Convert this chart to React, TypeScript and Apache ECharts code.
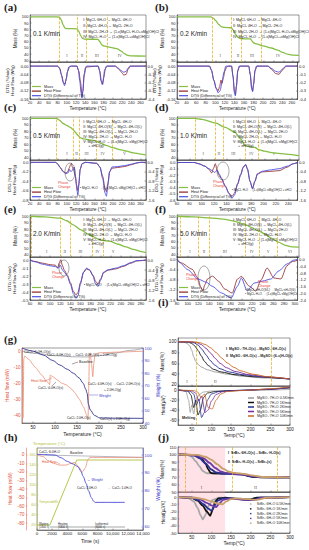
import React, { useEffect, useRef } from 'react';
import * as echarts from 'echarts';

// ===== (a) 0.1 K/min =====
const aMass = [[20,100],[80,100],[84,99.5],[88,95],[92,87],[96,82],[100,81.2],[122,80.8],[126,77],[130,70],[134,65.5],[138,64.3],[168,63.8],[172,60],[176,55],[180,53.5],[195,51],[210,48.5],[218,45],[225,41],[232,38],[240,37.2],[272,37]];
const aDtg = [[20,0],[80,0],[84,-0.01],[88,-0.04],[92,-0.08],[95,-0.095],[98,-0.07],[101,-0.03],[104,-0.005],[107,0],[122,0],[125,-0.02],[128,-0.07],[131,-0.13],[133,-0.155],[135,-0.12],[137,-0.05],[140,-0.01],[143,0],[168,0],[171,-0.02],[174,-0.07],[177,-0.09],[179,-0.07],[182,-0.02],[186,0],[205,0],[212,-0.01],[218,-0.022],[224,-0.03],[229,-0.025],[233,-0.01],[237,0],[272,0]];
const aHeat = [[20,0],[80,0],[85,-0.03],[89,-0.12],[93,-0.2],[96,-0.22],[99,-0.15],[102,-0.06],[106,-0.01],[110,0],[122,0],[126,-0.06],[130,-0.2],[133,-0.36],[135,-0.3],[138,-0.1],[142,-0.01],[168,0],[172,-0.07],[175,-0.18],[178,-0.22],[180,-0.14],[184,-0.03],[188,0],[205,0],[212,-0.03],[218,-0.07],[224,-0.11],[229,-0.1],[233,-0.04],[238,0],[272,0]];
const aDashed = [83,123,142,188];
const aRomanT = [100,133,165,215];

// ===== (b) 0.2 K/min =====
const bMass = [[20,100],[90,100],[95,98],[100,94],[106,88],[112,84],[118,83],[132,82.5],[136,79],[141,72],[146,67],[151,65],[172,64.5],[175,61],[179,58],[184,56.5],[200,53],[215,50],[228,46.5],[238,43],[248,40],[258,38.5],[272,38]];
const bDtg = [[20,0],[88,0],[92,-0.02],[97,-0.07],[102,-0.11],[106,-0.13],[110,-0.12],[114,-0.08],[118,-0.03],[122,0],[134,0],[137,-0.05],[140,-0.13],[142,-0.145],[144,-0.1],[147,-0.02],[150,0],[170,0],[173,-0.04],[176,-0.11],[178,-0.125],[180,-0.09],[183,-0.02],[186,0],[210,0],[218,-0.012],[226,-0.025],[233,-0.03],[240,-0.015],[247,0],[272,0]];
const bHeat = [[20,0],[88,0],[92,-0.05],[97,-0.17],[102,-0.27],[106,-0.3],[109,-0.25],[112,-0.17],[114,-0.21],[117,-0.14],[120,-0.06],[124,-0.01],[128,0],[134,0],[137,-0.12],[140,-0.3],[142,-0.35],[144,-0.25],[147,-0.06],[151,0],[170,0],[173,-0.1],[176,-0.26],[178,-0.3],[180,-0.22],[183,-0.06],[187,0],[210,0],[218,-0.04],[226,-0.09],[233,-0.1],[240,-0.05],[248,0],[272,0]];
const bDashed = [92,133,152,195];
const bRomanT = [109,146,175,229];

// ===== (c) 0.5 K/min =====
const cMass = [[20,100],[78,100],[84,97],[92,92],[100,89],[108,86],[113,83],[118,79],[124,74],[130,70],[136,68.5],[150,67],[164,65],[172,62],[185,58.5],[200,55],[215,52],[230,49.5],[245,47],[260,45],[272,44]];
const cDtg = [[20,0],[76,0],[80,-0.04],[86,-0.12],[92,-0.2],[98,-0.24],[103,-0.22],[106,-0.15],[109,-0.2],[112,-0.17],[116,-0.1],[119,-0.3],[122,-0.6],[124,-0.7],[126,-0.5],[129,-0.15],[133,-0.03],[140,0],[165,-0.02],[172,-0.1],[178,-0.35],[183,-0.65],[186,-0.72],[189,-0.5],[193,-0.2],[198,-0.1],[210,-0.09],[225,-0.07],[240,-0.04],[252,-0.01],[260,0],[272,0]];
const cHeat = [[20,0],[76,0],[80,-0.06],[86,-0.22],[92,-0.38],[98,-0.45],[102,-0.4],[105,-0.25],[108,-0.1],[110,-0.05],[112,-0.2],[115,-0.35],[118,-0.55],[121,-0.95],[124,-1.2],[126,-0.9],[129,-0.3],[133,-0.06],[140,0],[165,-0.04],[172,-0.2],[178,-0.6],[183,-1.1],[186,-1.25],[189,-0.9],[193,-0.4],[198,-0.25],[210,-0.22],[225,-0.18],[240,-0.1],[252,-0.03],[260,0],[272,0]];
const cDashed = [78,115,128,164,199];
const cRomanT = [100,121,143,178,225];

// ===== (d) 1.0 K/min =====
const dMass = [[60,100],[88,100],[100,98.5],[121,93],[137,86],[153,78.5],[161,69],[169,58.5],[178,56],[185,55.2],[190,52],[200,49.5],[211,47.2],[225,45.8],[237,44.7],[255,42.5]];
const dDtg = [[60,0],[88,0],[95,-0.02],[105,-0.06],[112,-0.1],[117,-0.13],[121,-0.16],[125,-0.12],[128,-0.18],[132,-0.25],[138,-0.38],[144,-0.5],[149,-0.57],[153,-0.52],[158,-0.35],[163,-0.2],[167,-0.08],[171,-0.03],[174,-0.1],[178,-0.3],[182,-0.42],[186,-0.3],[190,-0.18],[198,-0.14],[210,-0.12],[225,-0.1],[238,-0.06],[248,-0.02],[255,0]];
const dHeat = [[60,0],[88,0],[95,-0.05],[105,-0.15],[112,-0.3],[116,-0.45],[119,-0.25],[122,-0.05],[125,-0.35],[128,-0.55],[132,-0.7],[138,-1.0],[144,-1.3],[149,-1.45],[153,-1.3],[158,-0.9],[163,-0.5],[167,-0.2],[171,-0.1],[174,-0.3],[178,-0.8],[182,-1.1],[186,-0.8],[190,-0.5],[198,-0.4],[210,-0.38],[225,-0.35],[238,-0.2],[248,-0.05],[255,0]];
const dDashed = [89,121,134,169,190];
const dRomanT = [102,127,150,179,215];

// ===== (e) 2.0 K/min =====
const eMass = [[60,100],[90,99],[120,97],[133,93],[145,87],[160,79],[175,72],[185,68],[199,63],[210,61.5],[219,60.5],[235,56],[250,52],[265,48],[280,44.5],[290,43]];
const eDtg = [[60,0],[70,-0.02],[85,-0.05],[100,-0.07],[110,-0.08],[116,-0.1],[120,-0.06],[124,-0.12],[128,-0.15],[134,-0.2],[140,-0.3],[146,-0.42],[151,-0.48],[155,-0.45],[160,-0.3],[166,-0.15],[172,-0.1],[178,-0.12],[185,-0.2],[190,-0.3],[195,-0.33],[200,-0.25],[206,-0.15],[215,-0.12],[230,-0.1],[245,-0.07],[260,-0.03],[272,-0.005],[290,0]];
const eHeat = [[60,0],[70,-0.05],[85,-0.12],[100,-0.18],[110,-0.2],[115,-0.3],[118,-0.1],[121,0.02],[124,-0.2],[128,-0.4],[134,-0.6],[140,-0.9],[146,-1.25],[151,-1.4],[155,-1.3],[160,-0.9],[166,-0.5],[172,-0.35],[178,-0.4],[185,-0.6],[190,-0.85],[195,-0.95],[200,-0.75],[206,-0.5],[215,-0.4],[230,-0.35],[245,-0.25],[260,-0.12],[272,-0.03],[290,0]];
const eDashed = [63,120,139,183,206];
const eRomanT = [93,129,160,194,225];

// ===== (f) 5.0 K/min =====
const fMass = [[80,100],[110,99],[140,97.5],[165,95.5],[187,92],[205,87],[218,82],[230,77],[242,72],[255,65],[267,59],[280,54],[292,51.5],[305,51]];
const fDtg = [[80,0],[85,-0.12],[100,-0.4],[119,-0.77],[135,-0.9],[145,-1.05],[163,-1.32],[181,-1.52],[193,-1.05],[200,-0.73],[211,-1.24],[224,-0.93],[240,-0.85],[255,-0.77],[270,-0.45],[285,-0.18],[298,-0.02],[305,0]];
const fHeat = [[80,0],[88,-0.2],[108,-0.57],[119,-1.1],[124,-1.6],[128,-1.87],[132,-1.5],[137,-1.15],[146,-0.98],[158,-1.3],[169,-1.75],[183,-1.99],[193,-1.15],[200,-1.0],[215,-1.58],[227,-1.87],[237,-1.2],[248,-0.5],[261,-1.1],[274,-1.15],[285,-0.38],[295,-0.12],[305,-0.05]];
const fDashed = [86,119,140,205,232,265];
const fRomanT = [104,130,168,218,248,288];

const roman4 = ['I','II','III','IV'];
const roman5 = ['I','II','III','IV','V'];
const roman6 = ['I','II','III','IV','V','VI'];
const massTicksAB = [30,40,50,60,70,80,90,100];
const massTicksCF = [40,50,60,70,80,90,100];

const reactions4 = ['I: MgCl₂·6H₂O → MgCl₂·4H₂O','II: MgCl₂·4H₂O → MgCl₂·2H₂O','III: MgCl₂·2H₂O → (1-x)MgCl₂·H₂O+xMg(OH)Cl','IV: MgCl₂·H₂O → (1-x)MgCl₂+xMg(OH)Cl'];
const reactions5 = ['I: MgCl₂·6H₂O → MgCl₂·4H₂O','II: MgCl₂·4H₂O(S) → MgCl₂·4H₂O(L)','III: MgCl₂·4H₂O(L) → MgCl₂·2H₂O','IV: MgCl₂·2H₂O → MgCl₂·H₂O','V: MgCl₂·H₂O → (1-x)MgCl₂·xMg(OH)Cl','     + xHCl(g)'];
const tgLegend = ['Mass','Heat Flow','DTG (Differencial of TG)'];

// ===== (g) CaCl2·6H2O, temperature =====
const gWeight = [[25,100],[50,97.5],[73,94.4],[95,90],[111,86.4],[128,83],[142,79.8],[155,76],[164,71.8],[170,67],[173,63.8],[176,55],[180,50.5],[190,46],[202,44],[250,43.8],[300,43.7]];
const gHeat = [[25,0],[26,-10],[27,-42],[28,-30],[29,-5],[31,-3],[40,-5],[55,-10],[70,-15],[80,-18.5],[85,-20],[88,-21],[89,-15],[95,-16],[105,-18],[115,-20],[125,-21],[135,-23],[145,-26],[155,-30],[165,-35],[172,-40],[175,-43],[177,-20],[178,-2],[180,-1],[183,-8],[186,-16],[188,-8],[191,-2],[200,-1],[250,-0.5],[300,0]];
const gBaseline = [[25,0],[60,-1.5],[100,-2.8],[140,-3.5],[175,-3.6],[200,-2.8],[240,-1],[270,0.5],[300,1.8]];
const gTempTicks = [50,100,150,200,250,300];

// ===== (h) CaCl2·6H2O, time =====
const hTemp = [[0,20],[1700,20],[5250,150],[14000,150]];
const hHeat = [[0,0],[800,-2],[1500,-7],[2200,-10],[3000,-12],[3800,-12],[4500,-10],[5000,-9],[5500,-14],[6000,-20],[6400,-15],[6700,-6],[7000,-3],[8000,-3],[14000,-3]];
const hWeight = [[0,100.5],[1000,100.3],[2400,100],[3200,98.5],[4000,96.5],[4800,95],[5400,93.5],[5800,91],[6100,88],[6500,84],[6800,80],[7200,76],[7500,74],[7700,73.5],[9000,73.5],[11600,73.5]];
const hBaseline = [[0,0],[14000,-3]];

// ===== (i) MgSO4·7H2O =====
const iNames = ['MgSO₄·7H₂O 0.5K/min','MgSO₄·7H₂O 1K/min','MgSO₄·7H₂O 2K/min','MgSO₄·7H₂O 5K/min','MgSO₄·7H₂O 10K/min'];
const iMass05 = [[15,100],[30,99.5],[38,97],[45,92],[50,84],[55,72],[60,64],[66,58],[75,53],[90,48],[110,44],[140,40],[180,36],[230,33],[300,31]];
const iMass1 = [[15,100],[40,99.5],[50,97],[58,92],[66,84],[74,74],[82,64],[92,56],[105,49],[125,44],[160,39],[210,35],[300,31]];
const iMass2 = [[15,100],[45,99.5],[56,98],[66,94],[76,86],[86,76],[96,66],[108,57],[122,50],[145,44],[180,39],[230,35],[300,31]];
const iMass5 = [[15,100],[50,99.7],[62,98.5],[74,95],[86,88],[98,79],[110,69],[122,60],[138,52],[160,45],[195,39],[240,35],[300,31]];
const iMass10 = [[15,100],[55,99.8],[70,98.5],[84,95],[98,89],[112,80],[126,70],[140,61],[156,53],[175,46],[205,40],[245,35],[300,31]];
const iHeat05 = [[15,0],[35,-3],[42,-20],[46,-45],[50,-30],[55,-48],[60,-25],[68,-10],[80,-4],[100,-2],[150,-1],[250,0],[300,1]];
const iHeat1 = [[15,0],[40,-2],[48,-10],[55,-35],[60,-20],[66,-50],[72,-40],[80,-15],[90,-6],[110,-3],[150,-1],[250,1],[270,3],[300,4]];
const iHeat2 = [[15,0],[45,-2],[55,-8],[62,-30],[68,-18],[75,-55],[82,-45],[90,-20],[100,-8],[120,-3],[160,-1],[260,2],[300,5]];
const iHeat5 = [[15,0],[50,-2],[60,-6],[68,-22],[75,-12],[84,-45],[92,-40],[100,-22],[112,-9],[130,-3],[170,-1],[260,2],[300,6]];
const iHeat10 = [[15,0],[55,-1],[65,-4],[74,-15],[82,-8],[92,-35],[102,-38],[112,-20],[124,-8],[140,-3],[180,-1],[260,3],[300,7]];
const iDashed = [61,252];
const iRomanT = [38,110];
const iTicks = [50,100,150,200,250,300];

// ===== (j) SrBr2·6H2O =====
const jNames = ['SrBr₂·6H₂O 0.5K/min','SrBr₂·6H₂O 1K/min','SrBr₂·6H₂O 2K/min','SrBr₂·6H₂O 5K/min','SrBr₂·6H₂O 10K/min'];
const jMass05 = [[15,100],[40,99.5],[50,97],[60,91],[70,84],[78,78],[88,75],[150,74.5],[180,73.5],[195,71],[215,69.8],[300,69.5]];
const jMass1 = [[15,100],[50,99.5],[65,98],[75,95],[85,88],[92,80],[98,75.5],[105,74.8],[150,74.5],[175,74],[190,72],[205,70],[230,69.5],[300,69.5]];
const jMass2 = [[15,100],[55,99],[70,95],[85,88],[100,80],[112,76],[130,74.5],[180,73.5],[200,71],[220,69.8],[300,69.5]];
const jMass5 = [[15,100],[60,99],[80,95],[95,89],[110,82],[125,77],[140,75],[185,73],[205,71],[225,70],[300,69.5]];
const jMass10 = [[15,100],[65,99.5],[85,97],[100,93],[115,87],[130,81],[145,77],[160,75.5],[185,74],[205,72],[230,70],[300,69.5]];
const jHeat05 = [[15,0],[40,-1],[55,-6],[65,-15],[72,-25],[78,-31],[85,-25],[93,-12],[103,-4],[120,-1],[160,-2],[200,-3],[220,-1],[300,0]];
const jHeat1 = [[15,0],[50,-1],[65,-5],[78,-12],[88,-20],[97,-26],[103,-18],[110,-6],[118,-2],[135,-1],[170,-3],[195,-4],[215,-1],[300,0]];
const jHeat2 = [[15,0],[50,-1],[65,-4],[80,-10],[92,-16],[100,-19],[108,-12],[116,-5],[130,-2],[180,-3],[205,-4],[225,-1],[300,0]];
const jHeat5 = [[15,0],[55,-1],[70,-3],[88,-8],[102,-12],[112,-14],[120,-9],[130,-4],[145,-2],[185,-4],[210,-4],[230,-1],[300,0]];
const jHeat10 = [[15,0],[60,-1],[80,-3],[100,-6],[115,-9],[128,-10],[138,-6],[150,-3],[165,-2],[195,-3],[215,-4],[240,-1],[300,0]];
const jDashed = [33,154,267];
const jRomanT = [75,212];

const FF = 'Liberation Sans';
const SERIF = 'Liberation Serif';

function buildOption() {
  const grid: any[] = [];
  const xAxis: any[] = [];
  const yAxis: any[] = [];
  const series: any[] = [];
  const graphic: any[] = [];
  const legend: any[] = [];

  const addGrid = (left: number, top: number, width: number, height: number) => {
    grid.push({ left, top, width, height, show: true, borderColor: '#333', borderWidth: 0.5, backgroundColor: 'rgba(0,0,0,0)' });
    return grid.length - 1;
  };
  const fix = (d: number) => (v: number) => (Math.abs(v) < 1e-9 ? (0).toFixed(d) : v.toFixed(d));
  const mkAxis = (o: any) => {
    const color = o.color || '#222';
    const fs = o.fs || 4.2;
    const ax: any = {
      type: 'value', gridIndex: o.gi, min: o.min, max: o.max,
      axisLine: { show: true, onZero: false, lineStyle: { color: o.lineColor || color, width: 0.5 } },
      axisTick: { show: true, inside: true, length: 1.5, lineStyle: { color: o.lineColor || color, width: 0.4 } },
      axisLabel: { show: o.labels !== false, fontSize: fs, color, margin: o.margin ?? 1.5, fontFamily: FF, showMaxLabel: o.showMax ?? false },
      splitLine: { show: false },
    };
    if (o.pos) ax.position = o.pos;
    if (o.offset) ax.offset = o.offset;
    if (o.interval) ax.interval = o.interval;
    if (o.custom) { ax.axisLabel.customValues = o.custom; ax.axisTick.customValues = o.custom; delete ax.axisLabel.showMaxLabel; }
    if (o.fmt) ax.axisLabel.formatter = o.fmt;
    if (o.name) {
      ax.name = o.name; ax.nameLocation = o.nameLoc || 'middle'; ax.nameGap = o.nameGap;
      ax.nameTextStyle = { fontSize: o.nfs || fs + 0.6, color: o.ncolor || color, fontFamily: FF, lineHeight: (o.nfs || fs + 0.6) + 1, ...(o.nts || {}) };
    }
    return ax;
  };
  const addX = (o: any) => { xAxis.push(mkAxis(o)); return xAxis.length - 1; };
  const addY = (o: any) => { yAxis.push(mkAxis(o)); return yAxis.length - 1; };
  const line = (name: string, data: number[][], xi: number, yi: number, color: string, width: number, extra: any = {}) => {
    series.push({ type: 'line', name, data, xAxisIndex: xi, yAxisIndex: yi, showSymbol: false, symbol: 'none', smooth: 0.25, smoothMonotone: 'x', lineStyle: { color, width }, itemStyle: { color }, silent: true, ...extra });
  };
  const txt = (x: number, y: number, text: string, o: any = {}) => {
    graphic.push({ type: 'text', x, y, rotation: o.rot || 0, silent: true, z: 50,
      style: { text, fill: o.fill || '#222', fontSize: o.fs || 4, fontFamily: o.ff || FF, fontWeight: o.fw || 'normal', lineHeight: o.lh || (o.fs || 4) + 1.2, align: o.align || 'left', verticalAlign: o.va || 'top' } });
  };
  const seg = (x1: number, y1: number, x2: number, y2: number, stroke = '#222', w = 0.4) => {
    graphic.push({ type: 'line', silent: true, z: 50, shape: { x1, y1, x2, y2 }, style: { stroke, lineWidth: w } });
  };
  const ell = (cx: number, cy: number, rx: number, ry: number) => {
    graphic.push({ type: 'ellipse', silent: true, z: 50, shape: { cx, cy, rx, ry }, style: { fill: 'none', stroke: '#222', lineWidth: 0.4 } });
  };
  const dashedMark = (vals: number[]) => ({
    silent: true, symbol: 'none', animation: false, label: { show: false },
    lineStyle: { color: '#e0aa10', type: 'dashed', width: 0.7 },
    data: vals.map((v) => ({ xAxis: v })),
  });
  const romanSeries = (xi: number, yi: number, ts: number[], names: string[], yv: number, fs = 4.2) => {
    series.push({ type: 'scatter', xAxisIndex: xi, yAxisIndex: yi, symbolSize: 1, silent: true, itemStyle: { color: 'rgba(0,0,0,0)' },
      data: ts.map((t, i) => ({ value: [t, yv], label: { show: true, formatter: names[i], fontSize: fs, color: '#222', position: 'inside', fontFamily: SERIF } })) });
  };

  const GREEN = '#86bf45';
  const HRED = '#8e2020';
  const DBLUE = '#4a4ee0';

  const tg = (p: any) => {
    const dTop = p.mTop + p.mH;
    const gm = addGrid(p.left, p.mTop, p.width, p.mH);
    const gd = addGrid(p.left, dTop, p.width, p.dH);
    const xm = addX({ gi: gm, min: p.x[0], max: p.x[1], interval: 20, labels: false });
    const xd = addX({ gi: gd, min: p.x[0], max: p.x[1], interval: 20, fs: 4, name: 'Temperature (°C)', nameGap: 7, nfs: 4.8 });
    const ym = addY({ gi: gm, pos: 'left', min: p.m[0], max: p.m[1], custom: p.mt, fs: 4, name: 'Mass (%)', nameGap: 10, nfs: 4.6 });
    const yd = addY({ gi: gd, pos: 'left', min: p.d[0], max: p.d[1], interval: p.d[2], fs: 4, fmt: fix(p.d[3]), name: 'DTG (%/min)\nHeat Flow (W/g)', nameGap: 13, nfs: 4.2 });
    const yh = addY({ gi: gd, pos: 'right', min: p.h[0], max: p.h[1], interval: p.h[2], fs: 4, fmt: fix(p.h[3]) });
    line('Mass', p.mass, xm, ym, GREEN, 1.3, { markLine: dashedMark(p.dashed) });
    line('Heat Flow', p.heat, xd, yh, HRED, 0.8);
    line('DTG (Differencial of TG)', p.dtg, xd, yd, DBLUE, 0.9);
    romanSeries(xm, ym, p.romanT, p.roman, p.m[0] + (p.m[1] - p.m[0]) * 0.14, 4);
    legend.push({ left: p.left + 2, top: dTop + p.dH - 14.5, orient: 'vertical', itemWidth: 9, itemHeight: 1.2, itemGap: 0.6, icon: 'rect', padding: 0, selectedMode: false,
      textStyle: { fontSize: 3.8, fontFamily: FF, color: '#222', padding: [0, 0, 0, -2] }, data: tgLegend });
    txt(p.left + 3, p.mTop + 15, p.rate, { fs: 6.4 });
    txt(p.left + p.width * 0.46, p.mTop + 2.5, p.rx.join('\n'), { fs: 3.6, lh: p.rx.length > 4 ? 4.9 : 5.6 });
  };

  tg({ left: 30, width: 116, mTop: 15, mH: 47, dH: 37, x: [20, 272], m: [27.5, 103], mt: massTicksAB, d: [-0.16, 0.02, 0.04, 2], h: [-0.4, 0.05, 0.1, 1], mass: aMass, dtg: aDtg, heat: aHeat, dashed: aDashed, romanT: aRomanT, roman: roman4, rate: '0.1 K/min', rx: reactions4 });
  tg({ left: 177, width: 122, mTop: 15, mH: 47, dH: 37, x: [20, 272], m: [27.5, 103], mt: massTicksAB, d: [-0.16, 0.02, 0.04, 2], h: [-0.4, 0.05, 0.1, 1], mass: bMass, dtg: bDtg, heat: bHeat, dashed: bDashed, romanT: bRomanT, roman: roman4, rate: '0.2 K/min', rx: reactions4 });
  tg({ left: 30, width: 116, mTop: 117, mH: 43, dH: 40, x: [20, 272], m: [36, 102], mt: massTicksCF, d: [-0.8, 0.05, 0.2, 1], h: [-1.6, 0.1, 0.4, 1], mass: cMass, dtg: cDtg, heat: cHeat, dashed: cDashed, romanT: cRomanT, roman: roman5, rate: '0.5 K/min', rx: reactions5 });
  tg({ left: 177, width: 122, mTop: 117, mH: 43, dH: 40, x: [60, 255], m: [36, 102], mt: massTicksCF, d: [-0.6, 0.04, 0.1, 1], h: [-1.6, 0.107, 0.4, 1], mass: dMass, dtg: dDtg, heat: dHeat, dashed: dDashed, romanT: dRomanT, roman: roman5, rate: '1.0 K/min', rx: reactions5 });
  tg({ left: 30, width: 116, mTop: 215, mH: 42, dH: 43, x: [60, 290], m: [36, 102], mt: massTicksCF, d: [-0.5, 0.04, 0.1, 1], h: [-1.6, 0.128, 0.4, 1], mass: eMass, dtg: eDtg, heat: eHeat, dashed: eDashed, romanT: eRomanT, roman: roman5, rate: '2.0 K/min', rx: reactions5 });
  tg({ left: 177, width: 122, mTop: 215, mH: 42, dH: 43, x: [80, 305], m: [35.5, 102], mt: massTicksCF, d: [-1.6, 0.1, 0.4, 1], h: [-2.4, 0.15, 0.4, 1], mass: fMass, dtg: fDtg, heat: fHeat, dashed: fDashed, romanT: fRomanT, roman: roman6, rate: '5.0 K/min', rx: reactions5 });

  // phase change annotations
  const PR = '#e8413a';
  txt(58, 181, 'Phase\nChange', { fs: 3.6, fill: PR, lh: 4 });
  ell(70, 172, 5, 9);
  txt(80, 186, '• MgCl₂·H₂O → (1-x)MgCl₂·xMg(OH)Cl + xHCl', { fs: 3.2 });
  txt(213, 180, 'Phase\nChange', { fs: 3.6, fill: PR, lh: 4 });
  ell(223, 171, 6, 9);
  txt(232, 188, '• MgCl₂·H₂O → (1-x)MgCl₂·xMg(OH)Cl + xHCl', { fs: 2.9 });
  txt(52, 271, 'Phase\nChange', { fs: 3.6, fill: PR, lh: 4 });
  ell(64, 268, 5, 8);
  txt(84, 283, '• MgCl₂·H₂O → (1-x)MgCl₂·xMg(OH)Cl + xHCl', { fs: 3.2 });
  txt(186, 273, 'Phase\nChange', { fs: 3.6, fill: PR, lh: 4 });
  ell(204, 278, 6, 12);
  txt(258, 280, 'Phase\nChange', { fs: 3.6, fill: PR, lh: 4 });
  txt(245, 288, '• MgCl₂·nH₂O(S/L) → MgCl₂·nH₂O(G)\n• MgCl₂·H₂O → (1-x)MgCl₂·xMg(OH)Cl', { fs: 3.0, lh: 4 });

  // ===== (g) =====
  const GRED = '#e0533a';
  const GBLUE = '#3a3ac8';
  const gg = addGrid(22, 348, 121, 75);
  const gx = addX({ gi: gg, min: 25, max: 300, custom: gTempTicks, fs: 4.6, name: 'Temperature (°C)', nameGap: 8, nfs: 5 });
  const gyl = addY({ gi: gg, pos: 'left', min: -45, max: 2, custom: [0, -10, -20, -30, -40], fs: 4.6, color: GRED, name: 'Heat flow (mW)', nameGap: 12, nfs: 4.8 });
  const gyr = addY({ gi: gg, pos: 'right', min: 40, max: 100, interval: 10, showMax: true, fs: 4.3, color: GBLUE, name: 'Weight (%)', nameGap: 11, nfs: 4.8 });
  line('Baseline g', gBaseline, gx, gyl, '#8a8a9a', 0.7, { smooth: 0.4 });
  line('Heat flow g', gHeat, gx, gyl, '#ea8f74', 0.8, { smooth: 0.15 });
  line('Weight g', gWeight, gx, gyr, '#303090', 0.9, { smooth: 0.3 });
  txt(24, 350, 'CaCl₂·6.0H₂O(s)', { fs: 3.6 });
  txt(47, 353, 'CaCl₂·6.0H₂O(s) → CaCl₂·4.0H₂O(s) + 2.0H₂O(g)', { fs: 3.2 });
  txt(79, 360, 'Baseline', { fs: 3.6 });
  seg(78, 362, 72, 364);
  txt(31, 379, 'Heat flow', { fs: 3.6, fill: GRED });
  seg(45, 381, 52, 378, GRED);
  txt(38, 386, 'CaCl₂·4.0H₂O(s)', { fs: 3.4 });
  seg(52, 386, 56, 382);
  txt(88, 382, 'CaCl₂·4.0H₂O(s) → CaCl₂·2.0H₂O(s)', { fs: 3.2 });
  txt(104, 388, '+ 2.0H₂O(g)', { fs: 3.2 });
  txt(99, 393, 'Weight', { fs: 3.8, fill: GBLUE });
  seg(98, 395, 89, 395, GBLUE);
  txt(67, 416, 'CaCl₂·2.0H₂O(s)', { fs: 3.2 });
  txt(100, 417, 'CaCl₂(s) + 2.0H₂O(g)', { fs: 3.2 });

  // ===== (h) =====
  const HG = '#b3bf3a';
  const gh = addGrid(37, 448, 106, 82);
  const hx = addX({ gi: gh, min: 0, max: 14000, interval: 2000, fs: 4.4, fmt: (v: number) => (v >= 10000 ? Math.round(v / 1000) + ',000' : String(v)), showMax: true, name: 'Time (s)', nameGap: 8, nfs: 5 });
  const hyr = addY({ gi: gh, pos: 'left', offset: 11, min: -88, max: 8, custom: [0, -10, -20, -30, -40, -50, -60, -70, -80], fs: 4.8, color: GRED, name: 'Heat flow (mW)', nameGap: 13, nfs: 4.8 });
  const hyt = addY({ gi: gh, pos: 'left', min: 10, max: 174, custom: [20, 40, 60, 80, 100, 120, 140, 160], fs: 3.8, color: HG, name: 'Temperature (°C)', nameLoc: 'end', nameGap: 2, nfs: 4.2, nts: { align: 'left', padding: [0, 0, 0, -4] } });
  const hyw = addY({ gi: gh, pos: 'right', min: 58, max: 104, custom: [60, 70, 80, 90, 100], fs: 4.4, color: GBLUE, name: 'Weight (%)', nameGap: 10, nfs: 4.8 });
  line('Baseline h', hBaseline, hx, hyr, '#8a8a9a', 0.6, { smooth: 0 });
  line('Temperature h', hTemp, hx, hyt, HG, 0.9, { smooth: 0 });
  line('Heat flow h', hHeat, hx, hyr, '#ea8f74', 0.8, { smooth: 0.3 });
  line('Weight h', hWeight, hx, hyw, '#4a4ad6', 0.9, { smooth: 0.3 });
  txt(39, 450, 'CaCl₂·6.0H₂O', { fs: 3.4 });
  txt(70, 451, 'Baseline', { fs: 3.4 });
  txt(42, 460, 'Heat flow', { fs: 3.4, fill: GRED });
  seg(56, 462, 60, 464, GRED);
  txt(87, 478, '← Weight', { fs: 3.6, fill: GBLUE });
  txt(77, 486, 'CaCl₂·2.0H₂O', { fs: 3.2 });
  txt(108, 486, '← CaCl₂·1.0H₂O', { fs: 3.2 });
  txt(39, 500, 'Temperature', { fs: 3.4, fill: HG });
  seg(51, 502, 57, 500, HG);
  txt(39, 522, 'Waiting\n(1800 s)', { fs: 2.8, lh: 3.2 });
  seg(50, 527, 77, 527);
  txt(58, 522, 'Heating\n(3400 s)', { fs: 2.8, lh: 3.2 });
  seg(77, 527, 125, 527);
  txt(95, 522, 'Isothermal\n(6000 s)', { fs: 2.8, lh: 3.2 });

  // ===== (i) =====
  const iColors = ['#9a9a9a', '#111111', '#1f2f8f', '#7a2a9a', '#c8691e'];
  const gim = addGrid(178, 338, 112, 48);
  const gih = addGrid(178, 386, 112, 39);
  const ixm = addX({ gi: gim, min: 15, max: 300, custom: iTicks, labels: false });
  const ixh = addX({ gi: gih, min: 15, max: 300, custom: iTicks, fs: 4.6, name: 'Temp(°C)', nameGap: 7, nfs: 5 });
  const iym = addY({ gi: gim, pos: 'left', min: 18, max: 107, custom: [20, 40, 60, 80, 100], fs: 4.6, name: 'Mass(%)', nameGap: 10, nfs: 5 });
  const iyh = addY({ gi: gih, pos: 'left', min: -70, max: 8, custom: [0, -20, -40, -60], fs: 4.6, name: 'Heat(μV)', nameGap: 10, nfs: 5 });
  const iMass = [iMass05, iMass1, iMass2, iMass5, iMass10];
  const iHeat = [iHeat05, iHeat1, iHeat2, iHeat5, iHeat10];
  iMass.forEach((d, k) => line(iNames[k], d, ixm, iym, iColors[k], 0.9, k === 0 ? { markLine: dashedMark(iDashed) } : {}));
  iHeat.forEach((d, k) => line(iNames[k], d, ixh, iyh, iColors[k], 0.8, k === 0 ? { markLine: dashedMark([iDashed[0]]) } : {}));
  romanSeries(ixm, iym, iRomanT, ['I', 'II'], 27, 4.4);
  txt(226, 347, 'I  MgSO₄·7H₂O(s)→MgSO₄·6H₂O(s)', { fs: 3.6, fw: 'bold' });
  txt(226, 354, 'II  MgSO₄·6H₂O(s)→MgSO₄·(6-x)H₂O(s)', { fs: 3.6, fw: 'bold' });
  txt(182, 415, 'Melting', { fs: 3.8, fw: 'bold' });
  legend.push({ left: 248, top: 396, orient: 'vertical', itemWidth: 6, itemHeight: 1.5, itemGap: 0.5, icon: 'rect', padding: 0, selectedMode: false,
    textStyle: { fontSize: 3.6, fontFamily: FF, color: '#222', padding: [0, 0, 0, -2] }, data: iNames });

  // ===== (j) =====
  const jColors = ['#a8a8a8', '#111111', '#26348f', '#6a3aa8', '#c9a06a'];
  const gjm = addGrid(178, 447, 112, 45);
  const gjh = addGrid(178, 492, 112, 41);
  const jxm = addX({ gi: gjm, min: 15, max: 300, custom: iTicks, labels: false });
  const jxh = addX({ gi: gjh, min: 15, max: 300, custom: iTicks, fs: 4.6, name: 'Temp(°C)', nameGap: 7, nfs: 5 });
  const jym = addY({ gi: gjm, pos: 'left', min: 50, max: 110, interval: 10, showMax: true, fs: 4.4, name: 'Mass(%)', nameGap: 11, nfs: 5 });
  const jyh = addY({ gi: gjh, pos: 'left', min: -50, max: 7, interval: 10, fs: 4.4, name: 'Heat(μJ/K)', nameGap: 11, nfs: 5 });
  const jMass = [jMass05, jMass1, jMass2, jMass5, jMass10];
  const jHeat = [jHeat05, jHeat1, jHeat2, jHeat5, jHeat10];
  const pink = { silent: true, itemStyle: { color: 'rgba(255,170,190,0.35)' }, data: [[{ xAxis: 15 }, { xAxis: 135 }]] };
  jMass.forEach((d, k) => line(jNames[k], d, jxm, jym, jColors[k], 1.8, k === 0 ? { markLine: dashedMark(jDashed), markArea: pink } : {}));
  jHeat.forEach((d, k) => line(jNames[k], d, jxh, jyh, jColors[k], 1.8, k === 0 ? { markArea: pink } : {}));
  romanSeries(jxm, jym, jRomanT, ['I', 'II'], 56, 4.4);
  txt(228, 451, 'I  SrBr₂·6H₂O(s)→SrBr₂·H₂O(s)', { fs: 3.6, fw: 'bold' });
  txt(228, 460, 'II  SrBr₂·H₂O(s)→SrBr₂(s)', { fs: 3.6, fw: 'bold' });
  legend.push({ left: 250, top: 502, orient: 'vertical', itemWidth: 6, itemHeight: 1.5, itemGap: 0.8, icon: 'circle', padding: 0, selectedMode: false,
    textStyle: { fontSize: 3.6, fontFamily: FF, color: '#222', padding: [0, 0, 0, -2] }, data: jNames });

  // panel letters
  const L = { fs: 11, ff: SERIF, fw: 'bold' };
  txt(4, 1, '(a)', L); txt(155, 1, '(b)', L);
  txt(4, 101, '(c)', L); txt(155, 101, '(d)', L);
  txt(4, 203, '(e)', L); txt(155, 203, '(f)', L);
  txt(4, 333, '(g)', L); txt(158, 296, '(i)', L);
  txt(4, 431, '(h)', L); txt(158, 431, '(j)', L);

  return { animation: false, backgroundColor: '#fff', textStyle: { fontFamily: FF }, grid, xAxis, yAxis, series, graphic, legend };
}

export default function App() {
  const ref = useRef<HTMLDivElement>(null);
  useEffect(() => {
    const chart = echarts.init(ref.current as HTMLDivElement, null, { renderer: 'svg' });
    chart.setOption(buildOption());
    return () => chart.dispose();
  }, []);
  return <div ref={ref} style={{ position: 'fixed', left: 0, top: 0, width: 309, height: 550, background: '#fff' }} />;
}
